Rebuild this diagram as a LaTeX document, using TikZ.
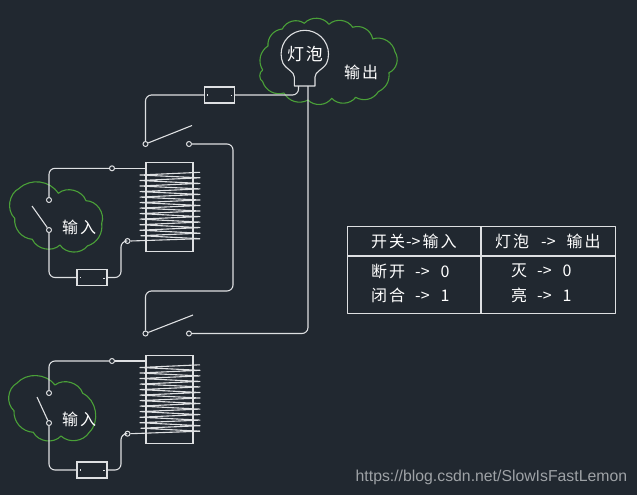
\documentclass[tikz,border=0pt]{standalone}
\usepackage{fontspec}
\setmainfont{Noto Sans CJK SC}
\newfontfamily\urlfont{Liberation Sans}
\definecolor{bgColor}{RGB}{33,40,48}
\definecolor{wireColor}{RGB}{222,224,226}
\definecolor{cloudColor}{RGB}{74,160,56}
\definecolor{markColor}{RGB}{158,162,166}
\tikzset{
  wire/.style={draw=wireColor,line width=1.1pt,line join=round,rounded corners=6pt},
  plainline/.style={draw=wireColor,line width=1.1pt,line join=round},
  cloudline/.style={draw=cloudColor,line width=1.1pt,line join=round},
  terminal/.style={circle,draw=wireColor,line width=1pt,inner sep=0pt,minimum size=5pt},
  loadbox/.style={rectangle,draw=wireColor,line width=1.1pt,inner sep=0pt,minimum width=30pt,minimum height=16pt},
  coilbox/.style={rectangle,draw=wireColor,line width=1.1pt,inner sep=0pt,minimum width=47pt,minimum height=88.5pt},
  label/.style={text=white,inner sep=0pt,font=\fontsize{16}{16}\selectfont},
  cell/.style={text=white,inner sep=0pt,font=\fontsize{16}{16}\selectfont}
}
\begin{document}
\begin{tikzpicture}[x=1pt,y=-1pt]
\path[use as bounding box,fill=bgColor] (0,0) rectangle (637,495);

% clouds
\draw[cloudline] (262.7,70) to[bend left=45] (268,46) to[bend left=45] (282.3,29) to[bend left=50] (304.3,23.3) to[bend left=50] (329,24.3) to[bend left=50] (352.7,27.3) to[bend left=50] (372.7,39) to[bend left=50] (395,52) to[bend left=50] (389,72.7) to[bend left=35] (378.3,91.7) to[bend left=45] (355.7,97.3) to[bend left=50] (331.7,98.3) to[bend left=50] (308,100) to[bend left=45] (284,93) to[bend left=45] (262.7,81.7) to[bend left=60] (262.7,70);
\draw[cloudline] (14.7,218.3) to[bend left=55] (19.3,188.3) to[bend left=50] (58.3,193.3) to[bend left=55] (86,200.7) to[bend left=55] (101.7,223.3) to[bend left=40] (87.3,246) to[bend left=55] (60,245) to[bend left=55] (32.3,239.3) to[bend left=45] (14.7,218.3);
\draw[cloudline] (14,410.7) to[bend left=55] (16.7,383.3) to[bend left=50] (55,385) to[bend left=55] (82.7,393.3) to[bend left=55] (89.3,432.3) to[bend left=50] (61,436) to[bend left=55] (33.3,432.3) to[bend left=45] (14,410.7);

% bulb
\draw[plainline] (294.3,86) -- (294.3,77) .. controls (294.3,71.5) and (287,70) .. (283,63.3) arc (157:383:23.7) .. controls (322.6,70) and (315,71.5) .. (315,77) -- (315,86) -- cycle;
\coordinate (bulbleft) at (298.5,86);
\coordinate (bulbright) at (308,86);
\node[label,font=\fontsize{17}{17}\selectfont] (bulbtext) at (305,54) {灯\hspace{2pt}泡};
\node[label] (outtext) at (361,72) {输\hspace{2pt}出};

% lamp branch
\node[loadbox] (lampbox) at (219.5,95) {};
\node[terminal] (swAfix) at (145.5,144) {};
\node[terminal] (swAcon) at (189,144) {};
\coordinate (swAend) at (192,125.5);
\node[terminal] (swBfix) at (145.5,333.5) {};
\node[terminal] (swBcon) at (189,333.5) {};
\coordinate (swBend) at (193,315);
\draw[wire] (bulbleft) |- (lampbox.east);
\draw[wire] (lampbox.west) -| (swAfix.north);
\draw[plainline] (swAfix) -- (swAend);
\draw[wire] (swAcon.east) -- (233,144) -- (233,291) -- (145.5,291) -- (swBfix.north);
\draw[plainline] (swBfix) -- (swBend);
\draw[wire] (bulbright) |- (swBcon.east);
\draw[plainline] (207,95) -- (208,95);
\draw[plainline] (231.5,95) -- (231.5,96);

% upper relay
\node[coilbox] (coilA) at (169.5,207) {};
\node[terminal] (topA) at (112,168.3) {};
\node[terminal] (botA) at (127.5,241) {};
\node[terminal] (inAtop) at (49,200) {};
\node[terminal] (inAbot) at (49,230) {};
\coordinate (inAend) at (32,206);
\node[loadbox] (boxA) at (92,277.5) {};
\node[label] (inAtext) at (79,227) {输\hspace{2pt}入};
\draw[wire] (coilA.west |- topA) -- (topA.east);
\draw[wire] (topA.west) -- (49,168.3) -- (inAtop.north);
\draw[plainline] (inAbot) -- (inAend);
\draw[wire] (inAbot.south) |- (boxA.west);
\draw[wire] (boxA.east) -- (121,277.5) -- (121,241) -- (botA.west);
\draw[plainline] (botA.east) -- (200,238.7);
\draw[plainline] (80,277.5) -- (81,277.5);
\draw[plainline] (104,277.5) -- (104,278.5);
\draw[plainline] (200,172.3) -- (140,175) -- (200,177.8) -- (140,180.5) -- (200,183.4) --
	(140,186) -- (200,188.9) -- (140,191.6) -- (200,194.4) -- (140,197.1) --
	(200,200) -- (140,202.6) -- (200,205.5) -- (140,208.1) -- (200,211) --
	(140,213.6) -- (200,216.6) -- (140,219.1) -- (200,222.1) -- (140,224.7) --
	(200,227.6) -- (140,230.2) -- (200,233.2) -- (141,235.7) -- (200,238.7);

% lower relay
\node[coilbox] (coilB) at (169.5,399.5) {};
\node[terminal] (topB) at (112,361) {};
\node[terminal] (botB) at (127.5,433.7) {};
\node[terminal] (inBtop) at (49,393) {};
\node[terminal] (inBbot) at (49,423) {};
\coordinate (inBend) at (37,397);
\node[loadbox] (boxB) at (92,470) {};
\node[label] (inBtext) at (79,419) {输\hspace{2pt}入};
\draw[wire] (coilB.west |- topB) -- (topB.east);
\draw[wire] (topB.west) -- (49,361) -- (inBtop.north);
\draw[plainline] (inBbot) -- (inBend);
\draw[wire] (inBbot.south) |- (boxB.west);
\draw[wire] (boxB.east) -- (121,470) -- (121,433.7) -- (botB.west);
\draw[plainline] (botB.east) -- (200,431.2);
\draw[plainline] (80,470) -- (81,470);
\draw[plainline] (104,470) -- (104,471);
\draw[plainline] (200,364.8) -- (140,367.5) -- (200,370.3) -- (140,373) -- (200,375.9) --
	(140,378.5) -- (200,381.4) -- (140,384.1) -- (200,386.9) -- (140,389.6) --
	(200,392.5) -- (140,395.1) -- (200,398) -- (140,400.6) -- (200,403.5) --
	(140,406.1) -- (200,409.1) -- (140,411.6) -- (200,414.6) -- (140,417.2) --
	(200,420.1) -- (140,422.7) -- (200,425.7) -- (141,428.2) -- (200,431.2);

% table
\draw[plainline] (347.3,226.7) rectangle (615.3,313.3);
\draw[plainline] (347.3,256) -- (615.3,256);
\draw[plainline] (481,226.7) -- (481,313.3);
\node[cell,anchor=west] (headA) at (371,241) {开\hspace{2pt}关\hspace{1pt}->\hspace{2pt}输\hspace{2pt}入};
\node[cell,anchor=west] (headB) at (495,241) {灯\hspace{2pt}泡\hspace{12pt}->\hspace{11pt}输\hspace{2pt}出};
\node[cell,anchor=west] (rowAa) at (371,271) {断\hspace{2pt}开\hspace{10pt}->\hspace{11pt}0};
\node[cell,anchor=west] (rowAb) at (371,295) {闭\hspace{2pt}合\hspace{10pt}->\hspace{11pt}1};
\node[cell,anchor=west] (rowBa) at (511,271) {灭\hspace{10pt}->\hspace{11pt}0};
\node[cell,anchor=west] (rowBb) at (511,295) {亮\hspace{10pt}->\hspace{11pt}1};

\node[text=markColor,inner sep=0pt,anchor=west,font=\urlfont\fontsize{15.8}{16}\selectfont] (marktext) at (355.5,477) {https://blog.csdn.net/SlowIsFastLemon};
\end{tikzpicture}
\end{document}
